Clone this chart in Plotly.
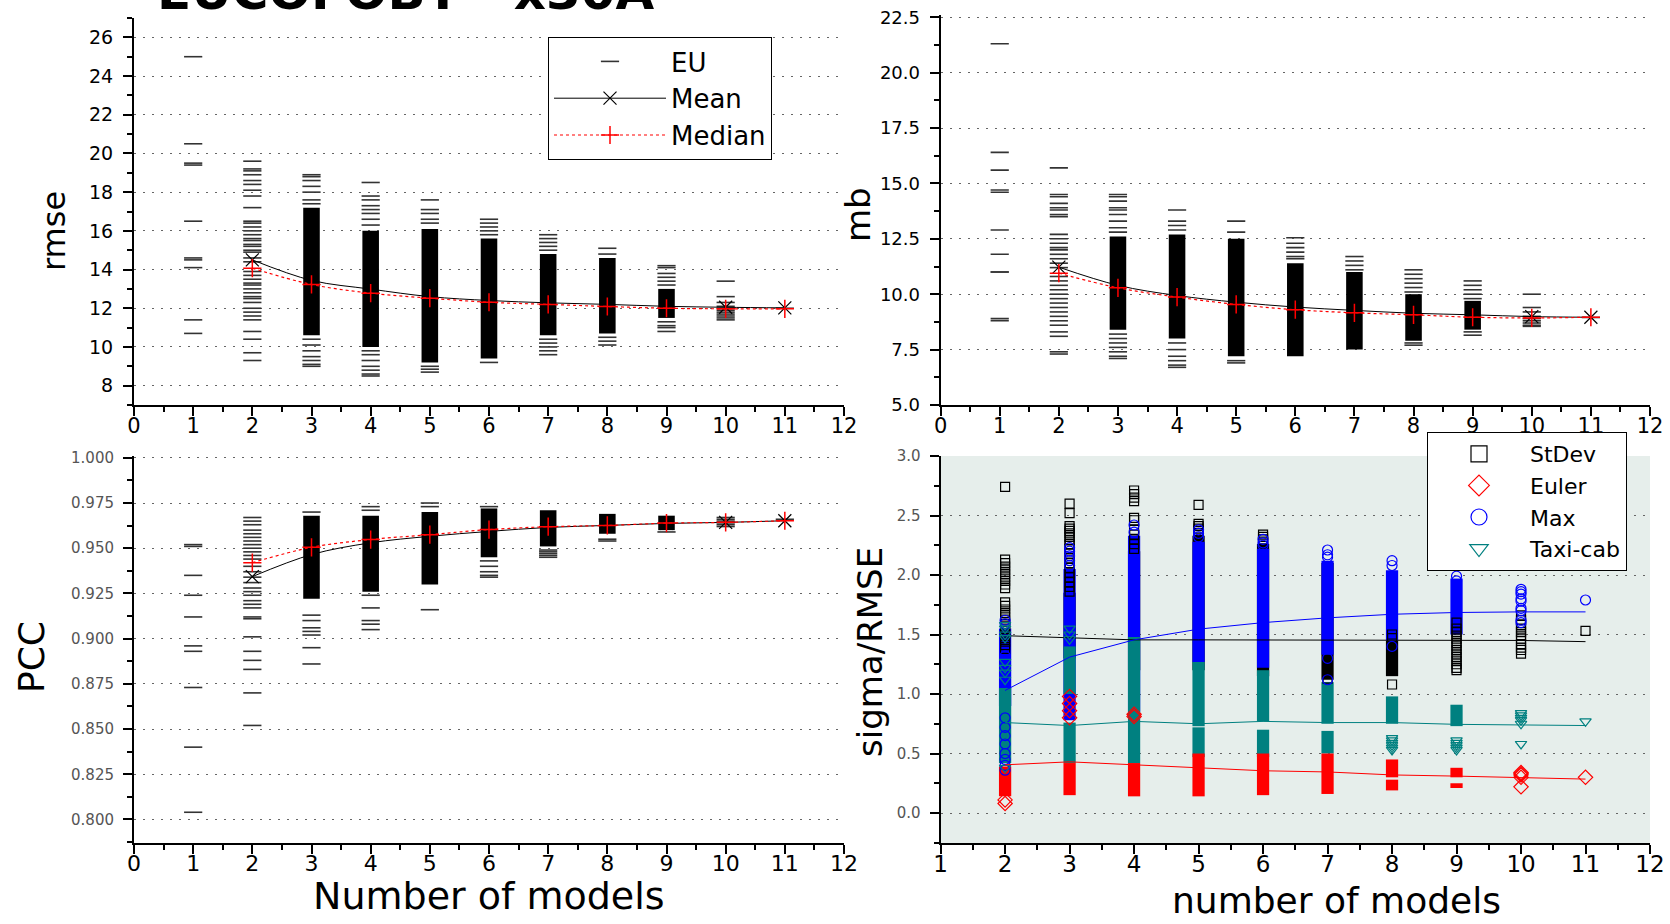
import plotly.graph_objects as go

W, H = 1670, 924
FONT = "DejaVu Sans"

# ---------------- data ----------------
agg_x = list(range(2, 12))         # x for mean / median curves

# rmse panel (EU dashes per number of models 1..11)
rmse_eu = [
    [25.0, 20.5, 19.5, 19.4, 16.5, 14.6, 14.5, 14.1, 11.4, 10.7],
    [19.6, 19.2, 19.1, 18.9, 18.6, 18.4, 18.1, 17.8, 17.2, 16.5, 16.4, 16.2, 16.0, 15.8, 15.6,
     15.5, 15.3, 15.2, 15.0, 14.9, 14.6, 14.4, 13.9, 13.7, 13.5, 13.3, 13.2, 13.0, 12.8, 12.6,
     12.5, 12.3, 12.0, 11.8, 11.6, 11.4, 10.8, 10.4, 9.7, 9.3],
    [18.9, 18.8, 18.6, 18.3, 18.0, 17.6, 17.4, 10.4, 10.1, 9.8, 9.5, 9.3, 9.1, 9.0],
    [18.5, 17.8, 17.6, 17.3, 17.1, 16.9, 16.6, 16.3, 9.8, 9.6, 9.3, 9.0, 8.8, 8.6, 8.5],
    [17.6, 17.1, 16.9, 16.6, 16.4, 9.0, 8.85, 8.7],
    [16.6, 16.4, 16.2, 16.0, 15.8, 9.2],
    [15.8, 15.6, 15.4, 15.2, 15.0, 10.4, 10.2, 10.0, 9.8, 9.6],
    [15.1, 14.8, 10.5, 10.3, 10.1],
    [14.2, 14.1, 13.8, 13.6, 13.4, 13.2, 11.3, 11.1, 11.0, 10.8],
    [13.4, 12.6, 12.3, 12.1, 12.0, 11.9, 11.8, 11.7, 11.6, 11.5, 11.4],
    [12.0],
]
rmse_band_x = [3, 4, 5, 6, 7, 8, 9]
rmse_band_lo = [10.6, 10.0, 9.2, 9.4, 10.6, 10.7, 11.5]
rmse_band_hi = [17.2, 16.0, 16.1, 15.6, 14.8, 14.6, 13.0]
rmse_mean = [14.5, 13.44, 12.99, 12.6, 12.4, 12.28, 12.2, 12.1, 12.05, 12.02]
rmse_median = [14.07, 13.23, 12.78, 12.52, 12.31, 12.2, 12.09, 12.0, 11.97, 11.97]

# mb panel
mb_eu = [
    [21.3, 16.4, 15.6, 14.7, 14.6, 12.9, 11.8, 11.0, 11.0, 8.9, 8.8],
    [15.7, 14.5, 14.4, 14.1, 13.9, 13.8, 13.6, 13.5, 12.7, 12.5, 12.3, 12.1, 12.0, 11.8, 11.6,
     11.4, 11.2, 10.8, 10.6, 10.4, 10.2, 10.0, 9.8, 9.6, 9.4, 9.2, 9.0, 8.8, 8.6, 8.3, 8.1, 7.4, 7.3],
    [14.5, 14.4, 14.2, 13.9, 13.8, 13.6, 13.3, 13.0, 12.8, 8.2, 8.0, 7.8, 7.6, 7.4, 7.2, 7.1],
    [13.8, 13.3, 13.1, 12.9, 7.8, 7.5, 7.2, 7.0, 6.8, 6.7],
    [13.3, 12.8, 7.0, 6.9],
    [12.55, 12.3, 12.1, 11.9, 11.7, 11.6],
    [11.7, 11.5, 11.3, 11.1],
    [11.1, 10.9, 10.7, 10.5, 10.3, 10.1, 7.8, 7.7],
    [10.6, 10.4, 10.2, 10.0, 9.8, 8.3, 8.15],
    [10.0, 9.4, 9.2, 9.0, 8.9, 8.8, 8.7, 8.6, 8.55],
    [8.95],
]
mb_band_x = [3, 4, 5, 6, 7, 8, 9]
mb_band_lo = [8.4, 8.0, 7.2, 7.2, 7.5, 7.9, 8.4]
mb_band_hi = [12.6, 12.7, 12.5, 11.4, 11.0, 10.0, 9.7]
mb_mean = [11.22, 10.4, 9.94, 9.64, 9.42, 9.27, 9.14, 9.07, 8.99, 8.96]
mb_median = [10.95, 10.29, 9.87, 9.54, 9.3, 9.16, 9.07, 8.96, 8.93, 8.96]

# PCC panel
pcc_eu = [
    [0.952, 0.951, 0.935, 0.924, 0.912, 0.896, 0.893, 0.873, 0.840, 0.804],
    [0.967, 0.965, 0.963, 0.960, 0.958, 0.956, 0.954, 0.952, 0.950, 0.948, 0.946, 0.944, 0.940,
     0.937, 0.934, 0.931, 0.928, 0.926, 0.924, 0.921, 0.919, 0.917, 0.912, 0.911, 0.901, 0.893,
     0.888, 0.883, 0.870, 0.852],
    [0.970, 0.913, 0.910, 0.906, 0.904, 0.902, 0.895, 0.886],
    [0.973, 0.971, 0.924, 0.917, 0.910, 0.908, 0.905],
    [0.975, 0.973, 0.916],
    [0.973, 0.943, 0.940, 0.937, 0.935, 0.934],
    [0.949, 0.948, 0.947, 0.946, 0.945],
    [0.955, 0.954],
    [0.959],
    [0.967, 0.966, 0.965, 0.964, 0.963, 0.962],
    [0.966],
]
pcc_band_x = [3, 4, 5, 6, 7, 8, 9]
pcc_band_lo = [0.922, 0.926, 0.930, 0.945, 0.951, 0.958, 0.960]
pcc_band_hi = [0.968, 0.968, 0.970, 0.972, 0.971, 0.969, 0.968]
pcc_mean = [0.9343, 0.9465, 0.953, 0.9566, 0.9593, 0.9615, 0.9626, 0.9637, 0.9643, 0.9652]
pcc_median = [0.942, 0.9505, 0.9548, 0.9575, 0.9603, 0.9619, 0.9626, 0.9639, 0.9643, 0.9652]

# sigma/RMSE panel (points per number of models 2..11)
sd_pts = [
    [2.74, 2.13, 2.10, 2.07, 2.04, 2.01, 1.98, 1.95, 1.92, 1.89, 1.77, 1.74, 1.71, 1.68, 1.65,
     1.62, 1.59, 1.56, 1.53, 1.50, 1.47, 1.44, 1.41, 1.38],
    [2.60, 2.52, 2.41, 2.39, 2.37, 2.35, 2.32, 2.29, 2.26, 2.22, 2.18, 2.14, 2.10, 2.06, 2.02,
     1.98, 1.94, 1.90, 1.86],
    [2.71, 2.68, 2.65, 2.62, 2.48, 2.46, 2.38, 2.34, 2.30, 2.26, 2.22],
    [2.59, 2.43, 2.41, 2.39, 2.37, 2.35],
    [2.34, 2.32, 2.30, 2.28],
    [1.13],
    [1.50, 1.47, 1.08],
    [1.60, 1.55, 1.52, 1.49, 1.46, 1.43, 1.40, 1.37, 1.34, 1.31, 1.28, 1.25, 1.22, 1.20],
    [1.66, 1.62, 1.58, 1.55, 1.52, 1.49, 1.46, 1.42, 1.39, 1.37, 1.34],
    [1.53],
]
sd_band_x = [3, 4, 5, 6, 7, 8]
sd_band_lo = [1.30, 1.20, 1.20, 1.15, 1.12, 1.15]
sd_band_hi = [1.85, 2.20, 2.33, 2.26, 2.10, 1.45]
sd_mean = [1.49, 1.47, 1.455, 1.455, 1.455, 1.45, 1.45, 1.45, 1.45, 1.44]

max_pts = [
    [1.62, 1.59, 1.32, 0.80, 0.72, 0.65, 0.58, 0.50, 0.45, 0.40, 0.36],
    [2.23, 2.20, 2.16, 2.12, 2.08],
    [2.42, 2.36],
    [2.38, 2.35, 2.32],
    [2.30, 2.27, 2.25],
    [2.21, 2.17, 2.15, 1.30, 1.12],
    [2.12, 2.08, 1.40],
    [1.99, 1.95],
    [1.88, 1.86, 1.84, 1.80, 1.78, 1.72, 1.70, 1.62, 1.60],
    [1.79],
]
max_band_x = [2, 3, 4, 5, 6, 7, 8, 9]
max_band_lo = [0.90, 0.78, 0.85, 1.27, 1.22, 1.33, 1.45, 1.50]
max_band_hi = [1.55, 2.05, 2.33, 2.28, 2.22, 2.12, 2.04, 1.97]
max_mean = [1.03, 1.31, 1.455, 1.545, 1.60, 1.64, 1.67, 1.685, 1.69, 1.69]

taxi_pts = [
    [1.58, 1.55, 1.50, 1.47, 1.27, 1.22, 1.18, 1.12, 0.38],
    [1.55, 1.50, 1.46],
    [],
    [],
    [],
    [],
    [0.63, 0.61, 0.59, 0.57, 0.55, 0.53],
    [0.61, 0.59, 0.57, 0.55, 0.53],
    [0.84, 0.82, 0.80, 0.78, 0.75, 0.58],
    [0.77],
]
taxi_band_x = [2, 3, 3, 4, 5, 5, 6, 6, 7, 7, 8, 9]
taxi_band_lo = [0.42, 1.00, 0.42, 0.42, 0.73, 0.47, 0.77, 0.47, 0.75, 0.50, 0.75, 0.73]
taxi_band_hi = [1.05, 1.40, 0.76, 1.48, 1.27, 0.72, 1.20, 0.70, 1.10, 0.69, 0.98, 0.91]
taxi_mean = [0.76, 0.735, 0.77, 0.75, 0.77, 0.76, 0.76, 0.745, 0.74, 0.735]

euler_pts = [
    [0.11, 0.08],
    [0.98, 0.92, 0.86, 0.80],
    [0.83, 0.81],
    [],
    [],
    [],
    [],
    [],
    [0.34, 0.33, 0.32, 0.30, 0.22],
    [0.30],
]
euler_band_x = [2, 3, 4, 5, 6, 7, 8, 8, 9, 9]
euler_band_lo = [0.14, 0.15, 0.14, 0.14, 0.15, 0.16, 0.30, 0.19, 0.30, 0.21]
euler_band_hi = [0.39, 0.42, 0.42, 0.50, 0.50, 0.50, 0.45, 0.28, 0.38, 0.25]
euler_mean = [0.405, 0.43, 0.405, 0.38, 0.355, 0.345, 0.32, 0.31, 0.30, 0.285]

# ---------------- helpers ----------------
def xdom(a, b):
    return [a / W, b / W]

def ydom(top, bottom):
    return [1 - bottom / H, 1 - top / H]

def flatten(lists, x0):
    xs, ys = [], []
    for i, vals in enumerate(lists):
        xs += [x0 + i] * len(vals)
        ys += vals
    return xs, ys

fig = go.Figure()

def eu_panel(eu, bx, blo, bhi, mean, median, xa, ya, legend):
    fig.add_trace(go.Bar(x=bx, y=[h - l for l, h in zip(blo, bhi)], base=blo, width=0.28,
                         marker=dict(color="black", line=dict(width=0)),
                         xaxis=xa, yaxis=ya, showlegend=False, hoverinfo="skip"))
    xs, ys = flatten(eu, 1)
    fig.add_trace(go.Scatter(x=xs, y=ys, mode="markers", name="EU",
                             marker=dict(symbol="line-ew", size=13,
                                         line=dict(width=1.6, color="#333")),
                             xaxis=xa, yaxis=ya, showlegend=legend, legend="legend"))
    fig.add_trace(go.Scatter(x=agg_x, y=mean, mode="lines+markers", name="Mean",
                             line=dict(color="black", width=1, shape="spline"),
                             marker=dict(symbol="x-thin", size=13,
                                         line=dict(width=1.2, color="black")),
                             xaxis=xa, yaxis=ya, showlegend=legend, legend="legend"))
    fig.add_trace(go.Scatter(x=agg_x, y=median, mode="lines+markers", name="Median",
                             line=dict(color="red", width=1.2, dash="dot", shape="spline"),
                             marker=dict(symbol="cross-thin", size=13,
                                         line=dict(width=1.5, color="red")),
                             xaxis=xa, yaxis=ya, showlegend=legend, legend="legend"))

eu_panel(rmse_eu, rmse_band_x, rmse_band_lo, rmse_band_hi, rmse_mean, rmse_median, "x", "y", True)
eu_panel(mb_eu, mb_band_x, mb_band_lo, mb_band_hi, mb_mean, mb_median, "x2", "y2", False)
eu_panel(pcc_eu, pcc_band_x, pcc_band_lo, pcc_band_hi, pcc_mean, pcc_median, "x3", "y3", False)

# sigma/RMSE panel
series = [
    ("StDev", sd_pts, sd_band_x, sd_band_lo, sd_band_hi, sd_mean, "black", "square-open", 9, 1),
    ("Max", max_pts, max_band_x, max_band_lo, max_band_hi, max_mean, "blue", "circle-open", 10, 3),
    ("Taxi-cab", taxi_pts, taxi_band_x, taxi_band_lo, taxi_band_hi, taxi_mean, "#008080", "triangle-down-open", 10, 4),
    ("Euler", euler_pts, euler_band_x, euler_band_lo, euler_band_hi, euler_mean, "red", "diamond-open", 11, 2),
]
for name, pts, bx, blo, bhi, mean, color, sym, size, rank in series:
    fig.add_trace(go.Bar(x=bx, y=[h - l for l, h in zip(blo, bhi)], base=blo, width=0.19,
                         marker=dict(color=color, line=dict(width=0)),
                         xaxis="x4", yaxis="y4", showlegend=False, hoverinfo="skip"))
    xs, ys = flatten(pts, 2)
    fig.add_trace(go.Scatter(x=xs, y=ys, mode="markers", name=name,
                             marker=dict(symbol=sym, size=size, color=color,
                                         line=dict(width=1.2, color=color)),
                             xaxis="x4", yaxis="y4", showlegend=False))
    fig.add_trace(go.Scatter(x=agg_x, y=mean, mode="lines", name=name,
                             line=dict(color=color, width=1),
                             xaxis="x4", yaxis="y4", showlegend=False))
    # legend entry
    fig.add_trace(go.Scatter(x=[None], y=[None], mode="markers", name=name,
                             marker=dict(symbol=sym, size=16, color=color,
                                         line=dict(width=1.2, color=color)),
                             xaxis="x4", yaxis="y4", showlegend=True,
                             legend="legend2", legendrank=rank))

# ---------------- axes ----------------
def axis(rng, dom, anchor, dtick, minor_dtick, font_size, tick_color="black",
         grid=False, standoff=None):
    a = dict(range=rng, domain=dom, anchor=anchor, dtick=dtick, tick0=0,
             automargin=False,
             showline=True, linecolor="black", linewidth=2, ticks="outside",
             ticklen=9, tickwidth=2, tickcolor="black", zeroline=False, mirror=False,
             tickfont=dict(family=FONT, size=font_size, color=tick_color),
             showgrid=grid, gridcolor="#666666", gridwidth=1, griddash="2px,7px",
             minor=dict(dtick=minor_dtick, ticklen=5, tickwidth=1.5, tickcolor="black",
                        ticks="outside", showgrid=False))
    if standoff is not None:
        a["ticklabelstandoff"] = standoff
    return a

XA = xdom(134, 844)
XB = xdom(940.6, 1650)
YT = ydom(18, 405)
YB = ydom(456, 843)

layout_axes = dict(
    xaxis=axis([0, 12], XA, "y", 1, 0.5, 21, standoff=-8),
    yaxis=axis([7, 27], YT, "x", 2, 1, 19, grid=True, standoff=6),
    xaxis2=axis([0, 12], XB, "y2", 1, 0.5, 21, standoff=-8),
    yaxis2=axis([5, 22.6], ydom(15, 405), "x2", 2.5, 1.25, 18, grid=True, standoff=6),
    xaxis3=axis([0, 12], XA, "y3", 1, 0.5, 22, standoff=-9),
    yaxis3=axis([0.787, 1.001], YB, "x3", 0.025, 0.0125, 15, tick_color="#555", grid=True, standoff=6),
    xaxis4=axis([1, 12], XB, "y4", 1, 0.5, 23, standoff=-10),
    yaxis4=axis([-0.252, 3.0], YB, "x4", 0.5, 0.25, 15, tick_color="#555", grid=True, standoff=6),
)
layout_axes["yaxis"]["tickformat"] = "d"
layout_axes["yaxis2"]["tickformat"] = ".1f"
layout_axes["yaxis3"]["tickformat"] = ".3f"
layout_axes["yaxis4"]["tickformat"] = ".1f"

fig.update_layout(
    width=W, height=H, margin=dict(l=0, r=0, t=0, b=0, autoexpand=False),
    paper_bgcolor="white", plot_bgcolor="rgba(0,0,0,0)",
    font=dict(family=FONT, color="black"),
    barmode="overlay", showlegend=True,
    legend=dict(x=548 / W, y=1 - 37 / H, xanchor="left", yanchor="top",
                bgcolor="white", bordercolor="black", borderwidth=1,
                font=dict(family=FONT, size=26), itemwidth=112,
                tracegroupgap=0),
    legend2=dict(x=1427 / W, y=1 - 432 / H, xanchor="left", yanchor="top",
                 bgcolor="white", bordercolor="black", borderwidth=1,
                 font=dict(family=FONT, size=22), itemwidth=92,
                 traceorder="normal"),
    **layout_axes,
)

# shaded background of the sigma/RMSE panel
fig.add_shape(type="rect", xref="x4 domain", yref="y4 domain", x0=0, x1=1, y0=0, y1=1,
              fillcolor="#e6eeeb", line=dict(width=0), layer="below")

ann = [
    dict(text="rmse", x=54 / W, y=1 - 231 / H, textangle=-90, size=32, ya="middle"),
    dict(text="mb", x=858 / W, y=1 - 215 / H, textangle=-90, size=34, ya="middle"),
    dict(text="PCC", x=31 / W, y=1 - 657 / H, textangle=-90, size=36, ya="middle"),
    dict(text="sigma/RMSE", x=870 / W, y=1 - 652 / H, textangle=-90, size=34, ya="middle"),
    dict(text="Number of models", x=489 / W, y=1 - 872 / H, textangle=0, size=38, ya="top"),
    dict(text="number of models", x=1336 / W, y=1 - 900 / H, textangle=0, size=36, ya="middle"),
]
for a in ann:
    fig.add_annotation(text=a["text"], x=a["x"], y=a["y"], xref="paper", yref="paper",
                       xanchor="center", yanchor=a["ya"], textangle=a["textangle"],
                       showarrow=False, font=dict(family=FONT, size=a["size"], color="black"))

fig.add_annotation(text="<b>EUCOFOBT · x30A</b>", x=405 / W, y=1 - 23 / H,
                   xref="paper", yref="paper", xanchor="center", yanchor="bottom",
                   showarrow=False, font=dict(family=FONT, size=50, color="black"))

fig.write_html("out.html")
